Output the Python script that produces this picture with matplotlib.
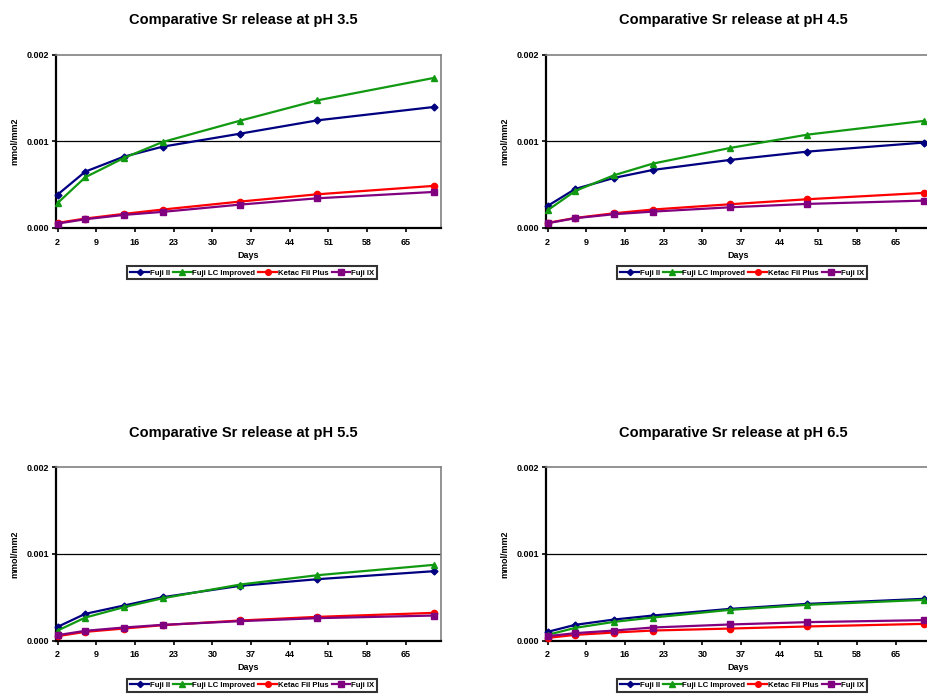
import matplotlib.pyplot as plt
from matplotlib.ticker import FixedLocator

plt.rcParams['font.family'] = ['Liberation Sans', 'DejaVu Sans']
plt.rcParams['font.weight'] = 'bold'

days = [2, 7, 14, 21, 35, 49, 70]
series_names = ['Fuji II', 'Fuji LC Improved', 'Ketac Fil Plus', 'Fuji IX']
ph_labels = ['3.5', '4.5', '5.5', '6.5']

# mmol/mm2, one list per material and pH
fuji2 = {
    '3.5': [0.000385, 0.00065, 0.000823, 0.000938, 0.001088, 0.001242, 0.001396],
    '4.5': [0.000254, 0.00045, 0.000577, 0.000669, 0.000785, 0.000881, 0.000985],
    '5.5': [0.000158, 0.000308, 0.000404, 0.0005, 0.000631, 0.000708, 0.0008],
    '6.5': [0.0001, 0.000181, 0.000242, 0.000288, 0.000365, 0.000423, 0.000481],
}
fujilc = {
    '3.5': [0.000288, 0.000585, 0.000808, 0.000992, 0.001238, 0.001473, 0.001731],
    '4.5': [0.000204, 0.000427, 0.000608, 0.000742, 0.000923, 0.001077, 0.001235],
    '5.5': [0.000115, 0.000265, 0.000385, 0.000488, 0.000646, 0.000754, 0.000873],
    '6.5': [0.000065, 0.000146, 0.000215, 0.000265, 0.000354, 0.000412, 0.000469],
}
ketac = {
    '3.5': [0.000058, 0.000108, 0.000162, 0.000212, 0.000304, 0.000388, 0.000485],
    '4.5': [0.000058, 0.000115, 0.000169, 0.000212, 0.000273, 0.000331, 0.000404],
    '5.5': [0.00005, 0.0001, 0.000138, 0.000177, 0.000231, 0.000273, 0.000319],
    '6.5': [0.00003, 0.000065, 0.000092, 0.000115, 0.000138, 0.000162, 0.000192],
}
fuji9 = {
    '3.5': [0.00005, 0.0001, 0.00015, 0.000185, 0.000269, 0.000342, 0.000415],
    '4.5': [0.000054, 0.000112, 0.000158, 0.000188, 0.000238, 0.000277, 0.000315],
    '5.5': [0.000062, 0.000112, 0.00015, 0.000181, 0.000223, 0.000258, 0.000288],
    '6.5': [0.00005, 0.000085, 0.000115, 0.00015, 0.000185, 0.000212, 0.000235],
}
colores = ['#000080', '#119911', '#ff0000', '#800080']
marcadores = ['D', '^', 'o', 's']
tamanos = [3.5, 4.5, 4.5, 4.5]
xticks = [2, 9, 16, 23, 30, 37, 44, 51, 58, 65]

W, H = 927, 698
fig = plt.figure(figsize=(W / 100, H / 100), dpi=100)

# (left, top) in pixels of each plot area; width/height in pixels
origenes = [(56, 54.7), (546, 54.7), (56, 467.3), (546, 467.3)]
ancho, alto = 384.7, 173.2

for ph, (x0, y0) in zip(ph_labels, origenes):
    ax = fig.add_axes([x0 / W, 1 - (y0 + alto) / H, ancho / W, alto / H])
    datos = [fuji2[ph], fujilc[ph], ketac[ph], fuji9[ph]]
    lineas = []
    for vals, nombre, c, m, ms in zip(datos, series_names, colores,
                                      marcadores, tamanos):
        l, = ax.plot(days, vals, color=c, marker=m, markersize=ms, lw=1.6,
                     label=nombre, clip_on=False, zorder=3)
        lineas.append(l)
    ax.set_xlim(1.7, 71.3)
    ax.set_ylim(0, 0.002)
    ax.xaxis.set_major_locator(FixedLocator(xticks))
    ax.set_yticks([0, 0.001, 0.002])
    ax.set_yticklabels(['0.000', '0.001', '0.002'])
    ax.tick_params(direction='out', length=3, width=1.2, labelsize=6.5,
                   pad=2)
    ax.tick_params(axis='x', pad=4)
    for lab in ax.get_xticklabels() + ax.get_yticklabels():
        lab.set_fontweight('bold')
    ax.axhline(0.001, color='black', lw=0.9, zorder=1)
    ax.spines['left'].set_linewidth(1.6)
    ax.spines['bottom'].set_linewidth(1.6)
    ax.spines['top'].set_color('#808080')
    ax.spines['right'].set_color('#808080')
    ax.spines['top'].set_linewidth(1.2)
    ax.spines['right'].set_linewidth(1.2)
    ax.set_xlabel('Days', fontsize=6.5, fontweight='bold', labelpad=3)
    ax.set_ylabel('mmol/mm2', fontsize=6.5, fontweight='bold', labelpad=5)
    ax.set_title('Comparative Sr release at pH ' + ph, fontsize=10.5,
                 fontweight='bold', pad=22, x=0.488)
    leg = ax.legend(lineas, series_names, loc='upper center',
                    bbox_to_anchor=(0.51, -0.2), ncol=4,
                    frameon=True, fancybox=False, handlelength=2.4,
                    handletextpad=0.1, columnspacing=0.4, borderpad=0.35,
                    markerscale=0.9,
                    prop={'weight': 'bold', 'size': 5.6})
    leg.get_frame().set_edgecolor('black')
    leg.get_frame().set_linewidth(1.5)

fig.savefig('out.png', dpi=100)
